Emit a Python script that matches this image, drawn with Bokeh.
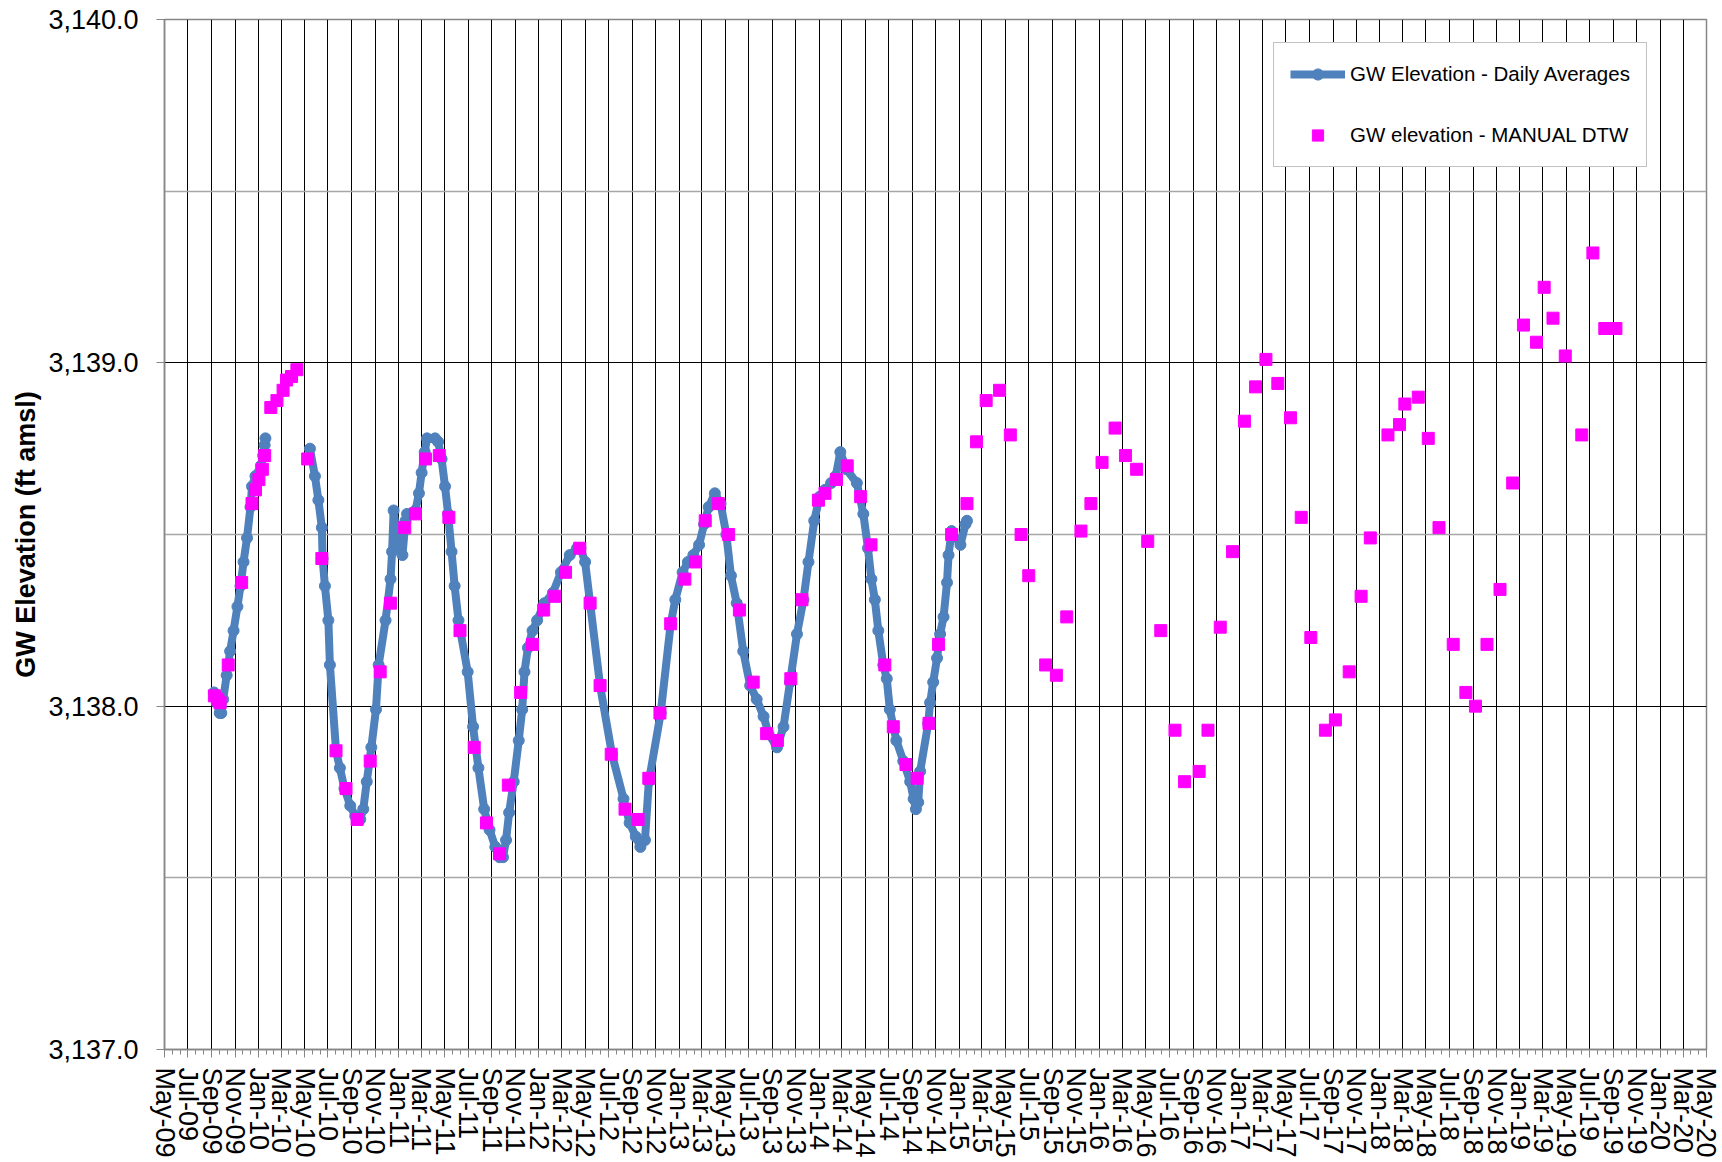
import math
import pandas as pd
from bokeh.plotting import figure
from bokeh.models import (Range1d, FixedTicker, DatetimeTickFormatter, NumeralTickFormatter,
                          Legend, LegendItem, ColumnDataSource)
from bokeh.embed import file_html
from bokeh.resources import INLINE

# ---------------- data ----------------
logger_a_dates = ["2009-09-07", "2009-09-14", "2009-09-22", "2009-09-26", "2009-10-01", "2009-10-10",
                  "2009-10-19", "2009-10-28", "2009-11-07", "2009-11-15", "2009-11-23", "2009-12-02",
                  "2009-12-11", "2009-12-15", "2009-12-24", "2010-01-07", "2010-01-13", "2010-01-17",
                  "2010-01-19"]
logger_a_elev = [3138.04, 3138.01, 3137.98, 3137.98, 3138.02, 3138.09, 3138.16, 3138.22, 3138.29, 3138.35,
                 3138.42, 3138.49, 3138.58, 3138.64, 3138.67, 3138.70, 3138.73, 3138.76, 3138.78]

logger_b_dates = [
    "2010-05-15", "2010-05-28", "2010-06-06", "2010-06-15", "2010-06-17", "2010-06-23", "2010-07-02",
    "2010-07-06", "2010-07-22", "2010-08-01", "2010-08-13", "2010-08-28", "2010-09-10", "2010-09-23",
    "2010-10-01", "2010-10-10", "2010-10-22", "2010-11-03", "2010-11-10", "2010-11-28", "2010-12-11",
    "2010-12-15", "2010-12-19", "2010-12-28", "2011-01-11", "2011-01-19", "2011-01-23", "2011-02-14",
    "2011-02-23", "2011-03-02", "2011-03-10", "2011-03-16", "2011-04-06", "2011-04-14", "2011-04-23",
    "2011-05-02", "2011-05-10", "2011-05-19", "2011-05-27", "2011-06-06", "2011-06-30", "2011-07-14",
    "2011-07-28", "2011-08-12", "2011-08-26", "2011-09-10", "2011-09-21", "2011-09-30", "2011-10-08",
    "2011-10-16", "2011-10-28", "2011-11-10", "2011-11-19", "2011-11-25", "2011-12-04", "2011-12-16",
    "2011-12-28", "2012-01-16", "2012-02-07", "2012-02-28", "2012-03-22", "2012-04-10", "2012-04-19",
    "2012-05-01", "2012-05-14", "2012-06-09", "2012-07-10", "2012-08-09", "2012-08-25", "2012-09-10",
    "2012-09-22", "2012-10-04", "2012-10-14", "2012-11-14", "2012-12-10", "2012-12-22", "2013-01-10",
    "2013-01-24", "2013-02-07", "2013-02-22", "2013-03-07", "2013-03-19", "2013-04-04", "2013-04-19",
    "2013-05-04", "2013-05-16", "2013-05-31", "2013-06-17", "2013-07-05", "2013-07-22", "2013-08-09",
    "2013-08-22", "2013-09-13", "2013-09-30", "2013-10-17", "2013-11-04", "2013-11-21", "2013-12-04",
    "2013-12-19", "2014-01-02", "2014-01-16", "2014-02-01", "2014-02-13", "2014-02-25", "2014-03-13",
    "2014-04-09", "2014-04-26", "2014-05-08", "2014-05-17", "2014-05-26", "2014-06-04", "2014-06-17",
    "2014-06-26", "2014-07-04", "2014-07-21", "2014-08-08", "2014-08-26", "2014-09-04", "2014-09-10",
    "2014-09-16", "2014-09-21", "2014-10-12", "2014-10-17", "2014-10-25", "2014-11-04", "2014-11-12",
    "2014-11-21", "2014-11-30", "2014-12-04", "2014-12-12", "2015-01-04", "2015-01-17", "2015-01-21"]
logger_b_elev = [
    3138.75, 3138.67, 3138.60, 3138.52, 3138.43, 3138.35, 3138.25,
    3138.12, 3137.87, 3137.82, 3137.76, 3137.71, 3137.68, 3137.67,
    3137.70, 3137.78, 3137.88, 3137.99, 3138.12, 3138.25, 3138.37,
    3138.45, 3138.57, 3138.49, 3138.44, 3138.54, 3138.56, 3138.57,
    3138.62, 3138.68, 3138.74, 3138.78, 3138.78, 3138.77, 3138.72,
    3138.64, 3138.56, 3138.45, 3138.35, 3138.25, 3138.10, 3137.94,
    3137.82, 3137.70, 3137.64, 3137.59, 3137.56, 3137.56, 3137.61,
    3137.69, 3137.78, 3137.90, 3137.99, 3138.10, 3138.17, 3138.22,
    3138.25, 3138.30, 3138.33, 3138.39, 3138.44, 3138.46, 3138.46,
    3138.42, 3138.30, 3138.06, 3137.86, 3137.73, 3137.66, 3137.62,
    3137.59, 3137.61, 3137.78, 3137.98, 3138.24, 3138.31, 3138.39,
    3138.42, 3138.44, 3138.47, 3138.53, 3138.58, 3138.62, 3138.59,
    3138.50, 3138.38, 3138.30, 3138.16, 3138.06, 3138.02, 3137.97,
    3137.92, 3137.88, 3137.94, 3138.07, 3138.21, 3138.31, 3138.42,
    3138.54, 3138.61, 3138.63, 3138.65, 3138.67, 3138.74, 3138.69,
    3138.65, 3138.56, 3138.46, 3138.37, 3138.31, 3138.22, 3138.12,
    3138.08, 3137.99, 3137.90, 3137.84, 3137.78, 3137.73, 3137.70,
    3137.72, 3137.81, 3137.95, 3138.01, 3138.07, 3138.14, 3138.21,
    3138.26, 3138.36, 3138.44, 3138.51, 3138.47, 3138.53, 3138.54]

manual_dates = [
    "2009-09-08", "2009-09-17", "2009-09-23", "2009-10-14", "2009-11-18", "2009-12-15", "2009-12-24",
    "2010-01-02", "2010-01-11", "2010-01-17", "2010-02-02", "2010-02-18", "2010-03-06", "2010-03-15",
    "2010-03-28", "2010-04-11", "2010-05-09", "2010-06-15", "2010-07-22", "2010-08-17", "2010-09-15",
    "2010-10-19", "2010-11-14", "2010-12-11", "2011-01-17", "2011-02-14", "2011-03-12", "2011-04-17",
    "2011-05-12", "2011-06-10", "2011-07-17", "2011-08-18", "2011-09-21", "2011-10-14", "2011-11-15",
    "2011-12-16", "2012-01-14", "2012-02-12", "2012-03-11", "2012-04-17", "2012-05-14", "2012-06-09",
    "2012-07-08", "2012-08-13", "2012-09-16", "2012-10-14", "2012-11-12", "2012-12-10", "2013-01-16",
    "2013-02-13", "2013-03-10", "2013-04-13", "2013-05-10", "2013-06-07", "2013-07-13", "2013-08-17",
    "2013-09-14", "2013-10-19", "2013-11-17", "2013-12-30", "2014-01-16", "2014-02-15", "2014-03-15",
    "2014-04-19", "2014-05-16", "2014-06-21", "2014-07-13", "2014-08-15", "2014-09-13", "2014-10-14",
    "2014-11-08", "2014-12-12", "2015-01-21", "2015-02-15", "2015-03-12", "2015-04-16", "2015-05-14",
    "2015-06-11", "2015-07-01", "2015-08-14", "2015-09-11", "2015-10-08", "2015-11-14", "2015-12-10",
    "2016-01-08", "2016-02-11", "2016-03-09", "2016-04-07", "2016-05-06", "2016-06-09", "2016-07-16",
    "2016-08-10", "2016-09-17", "2016-10-10", "2016-11-11", "2016-12-13", "2017-01-13", "2017-02-11",
    "2017-03-10", "2017-04-10", "2017-05-13", "2017-06-10", "2017-07-05", "2017-08-12", "2017-09-07",
    "2017-10-13", "2017-11-13", "2017-12-07", "2018-01-22", "2018-02-21", "2018-03-07", "2018-04-11",
    "2018-05-07", "2018-06-04", "2018-07-11", "2018-08-13", "2018-09-07", "2018-10-07", "2018-11-10",
    "2018-12-13", "2019-01-10", "2019-02-13", "2019-03-05", "2019-03-28", "2019-04-29", "2019-06-11",
    "2019-07-10", "2019-08-10", "2019-09-08"]
manual_elev = [
    3138.03, 3138.02, 3138.01, 3138.12, 3138.36, 3138.59, 3138.63,
    3138.66, 3138.69, 3138.73, 3138.87, 3138.89, 3138.92, 3138.95,
    3138.96, 3138.98, 3138.72, 3138.43, 3137.87, 3137.76, 3137.67,
    3137.84, 3138.10, 3138.30, 3138.52, 3138.56, 3138.72, 3138.73,
    3138.55, 3138.22, 3137.88, 3137.66, 3137.57, 3137.77, 3138.04,
    3138.18, 3138.28, 3138.32, 3138.39, 3138.46, 3138.30, 3138.06,
    3137.86, 3137.70, 3137.67, 3137.79, 3137.98, 3138.24, 3138.37,
    3138.42, 3138.54, 3138.59, 3138.50, 3138.28, 3138.07, 3137.92,
    3137.90, 3138.08, 3138.31, 3138.60, 3138.62, 3138.66, 3138.70,
    3138.61, 3138.47, 3138.12, 3137.94, 3137.83, 3137.79, 3137.95,
    3138.18, 3138.50, 3138.59, 3138.77, 3138.89, 3138.92, 3138.79,
    3138.50, 3138.38, 3138.12, 3138.09, 3138.26, 3138.51, 3138.59,
    3138.71, 3138.81, 3138.73, 3138.69, 3138.48, 3138.22, 3137.93,
    3137.78, 3137.81, 3137.93, 3138.23, 3138.45, 3138.83, 3138.93,
    3139.01, 3138.94, 3138.84, 3138.55, 3138.20, 3137.93, 3137.96,
    3138.10, 3138.32, 3138.49, 3138.79, 3138.82, 3138.88, 3138.90,
    3138.78, 3138.52, 3138.18, 3138.04, 3138.00, 3138.18, 3138.34,
    3138.65, 3139.11, 3139.06, 3139.22, 3139.13, 3139.02, 3138.79,
    3139.32, 3139.10, 3139.10]

axis_start = "2009-05-01"
axis_end = "2020-05-01"
y_ticks = [3137.0, 3138.0, 3139.0, 3140.0]
y_minor = [3137.5, 3138.5, 3139.5]

series_names = ["GW Elevation - Daily Averages", "GW elevation - MANUAL DTW"]
y_title = "GW Elevation (ft amsl)"

# ---------------- styling ----------------
FONT = "Liberation Sans"
BLUE = "#4F81BD"
MAGENTA = "#FF00FF"
GRAY = "#868686"

tick_idx = pd.date_range(axis_start, axis_end, freq="2MS")
major_ms = [float(v) for v in (tick_idx.asi8 // 10**6)]
minor_ms = []
for a, b in zip(major_ms[:-1], major_ms[1:]):
    minor_ms += [a + (b - a) / 3.0, a + 2.0 * (b - a) / 3.0]

p = figure(width=1720, height=1160, x_axis_type="datetime",
           x_range=Range1d(pd.Timestamp(axis_start), pd.Timestamp(axis_end)),
           y_range=Range1d(3137.0, 3140.0),
           output_backend="svg", toolbar_location=None,
           min_border_left=164, min_border_right=14, min_border_top=19, min_border_bottom=110)
p.background_fill_color = "white"
p.border_fill_color = "white"
p.outline_line_color = GRAY
p.outline_line_width = 1.5

xt = FixedTicker(ticks=major_ms, minor_ticks=minor_ms)
p.xaxis.ticker = xt
p.xgrid.ticker = xt
p.xaxis.formatter = DatetimeTickFormatter(days="%b-%y", months="%b-%y", years="%b-%y")
p.xaxis.major_label_orientation = -math.pi / 2
p.xaxis.major_label_text_font = FONT
p.xaxis.major_label_text_font_size = "27px"
p.xaxis.major_label_text_color = "black"
p.xaxis.major_label_standoff = 10
p.xaxis.axis_line_color = GRAY
p.xaxis.axis_line_width = 1.5
p.xaxis.major_tick_line_color = GRAY
p.xaxis.minor_tick_line_color = GRAY
p.xaxis.major_tick_out = 8
p.xaxis.major_tick_in = 0
p.xaxis.minor_tick_out = 5
p.xaxis.minor_tick_in = 0
p.xgrid.grid_line_color = "black"
p.xgrid.grid_line_width = 1

yt = FixedTicker(ticks=y_ticks, minor_ticks=y_minor)
p.yaxis.ticker = yt
p.ygrid.ticker = FixedTicker(ticks=[3138.0, 3139.0], minor_ticks=y_minor)
p.yaxis.formatter = NumeralTickFormatter(format="0,0.0")
p.yaxis.major_label_text_font = FONT
p.yaxis.major_label_text_font_size = "27px"
p.yaxis.major_label_text_color = "black"
p.yaxis.major_label_standoff = 18
p.yaxis.axis_line_color = GRAY
p.yaxis.axis_line_width = 1.5
p.yaxis.major_tick_line_color = GRAY
p.yaxis.major_tick_out = 8
p.yaxis.major_tick_in = 0
p.yaxis.minor_tick_out = 0
p.yaxis.minor_tick_in = 0
p.yaxis.axis_label = y_title
p.yaxis.axis_label_text_font = FONT
p.yaxis.axis_label_text_font_size = "27px"
p.yaxis.axis_label_text_font_style = "bold"
p.yaxis.axis_label_text_color = "black"
p.yaxis.axis_label_standoff = 4
p.ygrid.grid_line_color = "black"
p.ygrid.grid_line_width = 1
p.ygrid.minor_grid_line_color = "#a6a6a6"
p.ygrid.minor_grid_line_width = 1.5

# ---------------- series ----------------
src_a = ColumnDataSource(dict(x=pd.to_datetime(logger_a_dates), y=logger_a_elev))
src_b = ColumnDataSource(dict(x=pd.to_datetime(logger_b_dates), y=logger_b_elev))
src_m = ColumnDataSource(dict(x=pd.to_datetime(manual_dates), y=manual_elev))

la = p.line("x", "y", source=src_a, line_color=BLUE, line_width=8, line_join="round")
ca = p.scatter("x", "y", source=src_a, marker="circle", size=11, fill_color=BLUE, line_color=BLUE)
lb = p.line("x", "y", source=src_b, line_color=BLUE, line_width=8, line_join="round")
cb = p.scatter("x", "y", source=src_b, marker="circle", size=11, fill_color=BLUE, line_color=BLUE)
sm = p.scatter("x", "y", source=src_m, marker="square", size=12, fill_color=MAGENTA, line_color=MAGENTA)

legend = Legend(items=[LegendItem(label=series_names[0], renderers=[lb, cb]),
                       LegendItem(label=series_names[1], renderers=[sm])],
                location=(1109, 882))
legend.border_line_color = GRAY
legend.border_line_width = 1.5
legend.background_fill_color = "white"
legend.background_fill_alpha = 1.0
legend.label_text_font = FONT
legend.label_text_font_size = "20.5px"
legend.label_text_color = "black"
legend.glyph_width = 55
legend.glyph_height = 28
legend.label_height = 30
legend.label_standoff = 5
legend.padding = 16
legend.spacing = 31
legend.margin = 0
p.add_layout(legend)

open("out.html", "w").write(file_html(p, INLINE))
